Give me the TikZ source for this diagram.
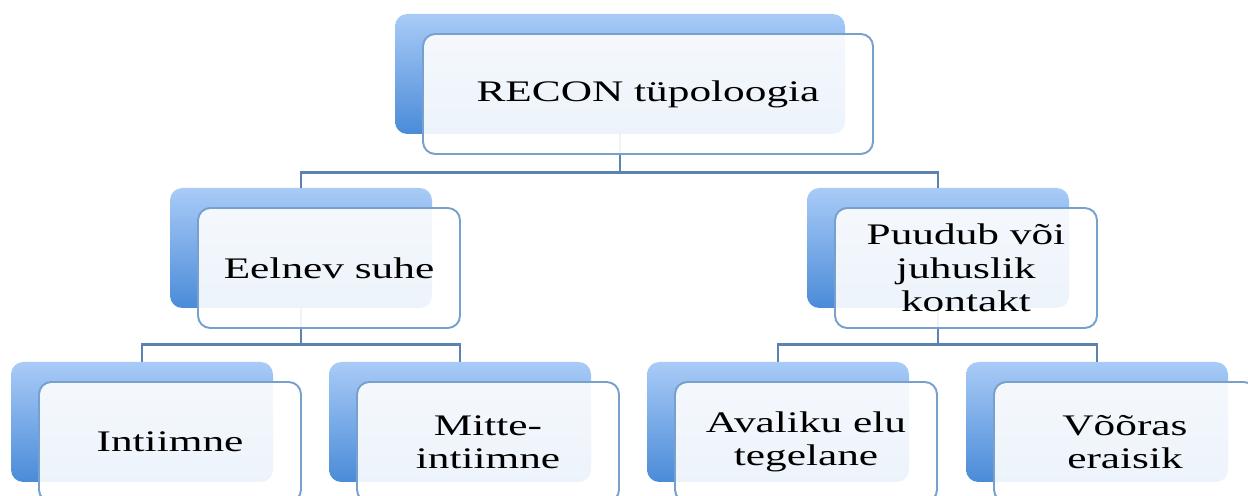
\documentclass[tikz,border=0pt]{standalone}
\usepackage{fontspec}
\setmainfont[FakeStretch=1.45]{Liberation Serif}
\definecolor{boxtop}{HTML}{A9CBF7}
\definecolor{boxbot}{HTML}{4A8BD8}
\definecolor{boxline}{HTML}{78A0CC}
\definecolor{linkcol}{HTML}{5C82B2}
\begin{document}
\begin{tikzpicture}[x=0.02cm,y=-0.02cm,
    backbox/.style={rounded corners=7pt, top color=boxtop, bottom color=boxbot,
        minimum width=262*0.02cm, minimum height=120*0.02cm, inner sep=0pt},
    frontbox/.style={rounded corners=7pt, draw=boxline, line width=1.1pt, fill=white,
        fill opacity=0.9, text opacity=1, align=center,
        minimum width=262*0.02cm, minimum height=120*0.02cm,
        font=\fontsize{17}{19}\selectfont},
    link/.style={draw=linkcol, line width=1.6pt}]
    \useasboundingbox (0,0) rectangle (1248,496);
    % back boxes
    \node[backbox, minimum width=450*0.02cm] (recB) at (620,74) {};
    \node[backbox] (eelB) at (301,248) {};
    \node[backbox] (puuB) at (938,248) {};
    \node[backbox] (intB) at (142,422) {};
    \node[backbox] (mitB) at (460,422) {};
    \node[backbox] (avaB) at (778,422) {};
    \node[backbox] (vooB) at (1097,422) {};
    % connectors
    \draw[link] (recB.south) -- ++(0,38) -| (eelB.north);
    \draw[link] (recB.south) -- ++(0,38) -| (puuB.north);
    \draw[link] (eelB.south) -- ++(0,36) -| (intB.north);
    \draw[link] (eelB.south) -- ++(0,36) -| (mitB.north);
    \draw[link] (puuB.south) -- ++(0,36) -| (avaB.north);
    \draw[link] (puuB.south) -- ++(0,36) -| (vooB.north);
    % front boxes
    \node[frontbox, minimum width=450*0.02cm] (rec) at (648,94) {RECON tüpoloogia};
    \node[frontbox] (eel) at (329,268) {Eelnev suhe};
    \node[frontbox] (puu) at (966,268) {Puudub või\\juhuslik\\kontakt};
    \node[frontbox] (int) at (170,442) {Intiimne};
    \node[frontbox] (mit) at (488,442) {Mitte-\\intiimne};
    \node[frontbox] (ava) at (806,442) {Avaliku elu\\tegelane};
    \node[frontbox] (voo) at (1125,442) {Võõras\\eraisik};
\end{tikzpicture}
\end{document}
